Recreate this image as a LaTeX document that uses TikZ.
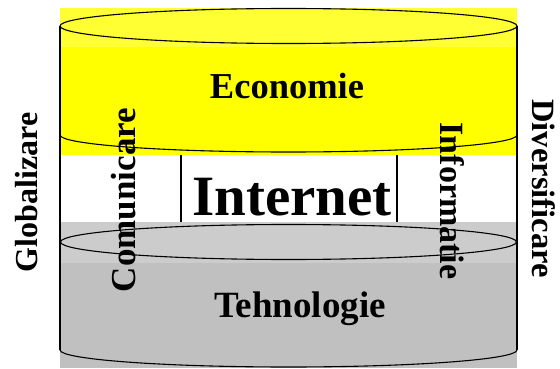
\documentclass[tikz,border=0pt]{standalone}
\usepackage{fontspec}
\setmainfont{Liberation Serif}
\definecolor{ylight}{RGB}{255,255,51}
\definecolor{ymain}{RGB}{255,255,0}
\definecolor{glight}{RGB}{204,204,204}
\definecolor{gmain}{RGB}{192,192,192}
\newcommand{\fsz}[1]{\fontsize{#1}{#1}\selectfont\bfseries}
\begin{document}
\begin{tikzpicture}[x=1pt,y=-1pt,
  outline/.style={draw=black,line width=1.1pt},
  word/.style={inner sep=0pt,anchor=base}]
\useasboundingbox (0,0) rectangle (560,369);
% cylinder bodies (flat fills with a lighter band at the lid)
\fill[ylight] (60,8) rectangle (517,47);
\fill[ymain] (60,47) rectangle (517,155);
\fill[glight] (60,222) rectangle (517,263);
\fill[gmain] (60,263) rectangle (517,368);
% Economie cylinder outline
\draw[outline] (288.5,26) ellipse [x radius=228.5, y radius=17.5];
\draw[outline] (60,135) arc [start angle=180, end angle=0, x radius=228.5, y radius=17];
% Tehnologie cylinder outline
\draw[outline] (288.5,242) ellipse [x radius=228, y radius=17.5];
\draw[outline] (60,350) arc [start angle=180, end angle=0, x radius=228.5, y radius=17];
% side walls
\draw[outline] (60,26) -- (60,350);
\draw[outline] (517,26) -- (517,350);
% Internet frame
\draw[outline] (181,155) -- (181,222);
\draw[outline] (397,155) -- (397,222);
% labels
\node[word,font=\fsz{36.5}] (eco) at (287,99) {Economie};
\node[word,font=\fsz{57}] (net) at (292,215) {Internet};
\node[word,font=\fsz{37}] (teh) at (300,317) {Tehnologie};
\node[word,font=\fsz{32},rotate=90] (glob) at (37,192.5) {Globalizare};
\node[word,font=\fsz{32.5},rotate=-90] (div) at (532,188.5) {Diversificare};
\node[word,font=\fsz{35},rotate=90] (com) at (135,200) {Comunicare};
\node[word,font=\fsz{34},rotate=-90] (inf) at (440,201) {Informatie};
\end{tikzpicture}
\end{document}
